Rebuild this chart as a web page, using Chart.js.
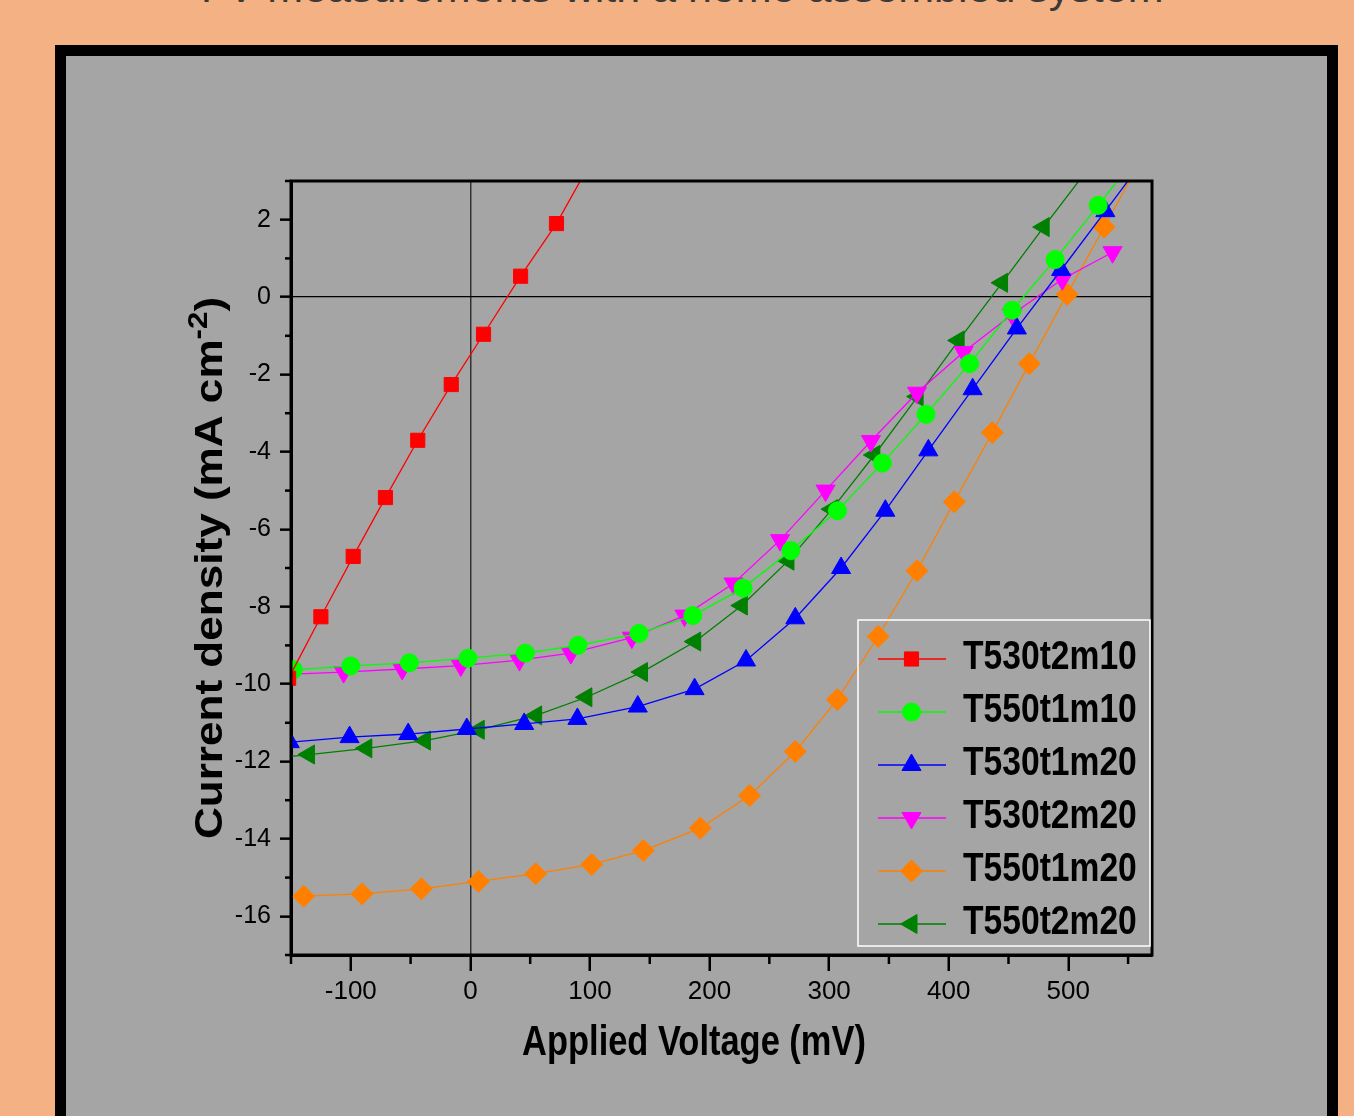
<!DOCTYPE html>
<html>
<head>
<meta charset="utf-8">
<script src="https://cdn.jsdelivr.net/npm/chart.js@4.4.1/dist/chart.umd.min.js"></script>
<style>
html,body{margin:0;padding:0;width:1354px;height:1116px;overflow:hidden;background:#F4B183;}
#title{position:absolute;left:0;width:1364px;top:-33px;text-align:center;font:43px 'Liberation Sans',Arial,sans-serif;color:#3a3a3a;line-height:40px;white-space:nowrap;}
#panel{position:absolute;left:55px;top:45px;width:1261px;height:1200px;border:11px solid #000;background:#A5A5A5;}
#wrap{position:absolute;left:0;top:0;width:1354px;height:1116px;}
</style>
</head>
<body>
<div id="title">I-V measurements with a home assembled system</div>
<div id="panel"></div>
<div id="wrap"><canvas id="c" width="1354" height="1116"></canvas></div>
<script>
// ---- data (voltage in mV, current density in mA cm^-2) ----
const seriesLabels = ['T530t2m10', 'T550t1m10', 'T530t1m20', 'T530t2m20', 'T550t1m20', 'T550t2m20'];

const voltageT530t2m10 = [-152, -125, -98, -71, -44, -16, 11, 42, 72, 100];
const currentT530t2m10 = [-9.85, -8.26, -6.70, -5.18, -3.70, -2.26, -0.96, 0.54, 1.90, 3.45];

const voltageT550t1m10 = [-148, -100, -51, -2, 46, 90, 141, 186, 228, 268, 307, 344.5, 381, 417.5, 453, 489, 525, 560];
const currentT550t1m10 = [-9.63, -9.53, -9.45, -9.33, -9.20, -9.00, -8.69, -8.23, -7.52, -6.55, -5.52, -4.29, -3.03, -1.72, -0.34, 0.97, 2.37, 3.75];

const voltageT530t1m20 = [-151, -101, -52, -3, 45, 89.5, 140, 187.5, 230.5, 271.7, 310, 347, 383, 420, 457, 494, 531, 568];
const currentT530t1m20 = [-11.50, -11.37, -11.29, -11.16, -11.03, -10.90, -10.58, -10.13, -9.39, -8.30, -7.00, -5.52, -3.96, -2.38, -0.81, 0.70, 2.22, 3.75];

const voltageT530t2m20 = [-155, -106, -57, -8, 41, 84, 135, 179, 220, 259, 297, 335, 373.5, 412.5, 453, 495, 537];
const currentT530t2m20 = [-9.75, -9.69, -9.61, -9.52, -9.38, -9.20, -8.80, -8.23, -7.40, -6.28, -5.00, -3.72, -2.47, -1.42, -0.45, 0.46, 1.16];

const voltageT550t1m20 = [-139.4, -90.6, -41, 6.7, 54.6, 101.5, 144.6, 192.3, 233.5, 271.7, 306.8, 341, 373.5, 404.7, 436.5, 467.4, 499, 530, 561];
const currentT550t1m20 = [-15.48, -15.42, -15.29, -15.10, -14.90, -14.66, -14.30, -13.72, -12.88, -11.74, -10.40, -8.77, -7.07, -5.29, -3.50, -1.72, 0.07, 1.81, 3.55];

const voltageT550t2m20 = [-183, -135, -87, -38, 7, 55, 97, 143.5, 188, 227, 266, 302.4, 337.8, 374, 408.3, 444.6, 479.4, 515];
const currentT550t2m20 = [-11.98, -11.82, -11.66, -11.46, -11.18, -10.81, -10.34, -9.69, -8.90, -7.97, -6.81, -5.48, -4.08, -2.57, -1.12, 0.37, 1.81, 3.25];

const xAxisTitle = 'Applied Voltage (mV)';
const yAxisTitleMain = 'Current density (mA cm';
const yAxisTitleSup = '-2';
const yAxisTitleEnd = ')';

// ---- helpers ----
const SANS = "'Liberation Sans', Arial, sans-serif";

function pts(xs, ys) { return xs.map((v, i) => ({x: v, y: ys[i]})); }

const styles = [
  {color: '#FF0000', pointStyle: 'rect', radius: 10, rotation: 0},
  {color: '#00FF00', pointStyle: 'circle', radius: 9, rotation: 0},
  {color: '#0000FF', pointStyle: 'triangle', radius: 11, rotation: 0},
  {color: '#FF00FF', pointStyle: 'triangle', radius: 11, rotation: 180},
  {color: '#FF8000', pointStyle: 'rectRot', radius: 11, rotation: 0},
  {color: '#008000', pointStyle: 'triangle', radius: 11, rotation: 270}
];
const seriesData = [
  pts(voltageT530t2m10, currentT530t2m10),
  pts(voltageT550t1m10, currentT550t1m10),
  pts(voltageT530t1m20, currentT530t1m20),
  pts(voltageT530t2m20, currentT530t2m20),
  pts(voltageT550t1m20, currentT550t1m20),
  pts(voltageT550t2m20, currentT550t2m20)
];

const datasets = seriesLabels.map((lab, i) => ({
  label: lab,
  data: seriesData[i],
  showLine: true,
  tension: 0,
  borderColor: styles[i].color,
  backgroundColor: styles[i].color,
  borderWidth: 1.3,
  pointStyle: styles[i].pointStyle,
  pointRadius: styles[i].radius,
  pointRotation: styles[i].rotation,
  pointBorderWidth: 1,
  pointBorderColor: styles[i].color,
  pointBackgroundColor: styles[i].color,
  clip: 0
}));

const frameAndTicks = {
  id: 'frameAndTicks',
  afterDraw(chart) {
    const {ctx, chartArea: a, scales: {x, y}} = chart;
    ctx.save();
    ctx.strokeStyle = '#000';
    ctx.lineWidth = 2.5;
    x.ticks.forEach(t => {
      if (t.value % 100 !== 0) {
        const px = x.getPixelForValue(t.value);
        ctx.beginPath(); ctx.moveTo(px, a.bottom); ctx.lineTo(px, a.bottom + 9); ctx.stroke();
      }
    });
    y.ticks.forEach(t => {
      if (Math.abs(t.value) % 2 === 1) {
        const py = y.getPixelForValue(t.value);
        ctx.beginPath(); ctx.moveTo(a.left, py); ctx.lineTo(a.left - 6, py); ctx.stroke();
      }
    });
    ctx.lineWidth = 3;
    ctx.strokeRect(a.left, a.top, a.right - a.left, a.bottom - a.top);
    ctx.restore();
  }
};

const axisTitles = {
  id: 'axisTitles',
  afterDraw(chart) {
    const {ctx, chartArea: a} = chart;
    // y axis title (rotated, with superscript)
    const big = 'bold 38px ' + SANS;
    const small = 'bold 27px ' + SANS;
    ctx.save();
    ctx.translate(a.left - 69, (a.top + a.bottom) / 2);
    ctx.rotate(-Math.PI / 2);
    ctx.scale(1.16, 1);
    ctx.fillStyle = '#000';
    ctx.textAlign = 'left';
    ctx.textBaseline = 'alphabetic';
    ctx.font = big;
    const w1 = ctx.measureText(yAxisTitleMain).width;
    const w3 = ctx.measureText(yAxisTitleEnd).width;
    ctx.font = small;
    const w2 = ctx.measureText(yAxisTitleSup).width;
    let px = -(w1 + w2 + w3) / 2;
    ctx.font = big; ctx.fillText(yAxisTitleMain, px, 0); px += w1;
    ctx.font = small; ctx.fillText(yAxisTitleSup, px, -15); px += w2;
    ctx.font = big; ctx.fillText(yAxisTitleEnd, px, 0);
    ctx.restore();
    // x axis title (condensed bold)
    ctx.save();
    ctx.translate(a.left + 403, a.bottom + 100);
    ctx.scale(0.82, 1);
    ctx.fillStyle = '#000';
    ctx.font = 'bold 42px ' + SANS;
    ctx.textAlign = 'center';
    ctx.textBaseline = 'alphabetic';
    ctx.fillText(xAxisTitle, 0, 0);
    ctx.restore();
  }
};

const boxLegend = {
  id: 'boxLegend',
  afterDraw(chart) {
    const {ctx, chartArea: a} = chart;
    const W = 292, H = 326;
    const left = a.right - 2 - W, top = a.bottom - 9 - H;
    ctx.save();
    ctx.strokeStyle = '#FFFFFF';
    ctx.lineWidth = 1.5;
    ctx.strokeRect(left, top, W, H);
    chart.data.datasets.forEach((ds, i) => {
      const cy = top + 39 + i * 53;
      ctx.strokeStyle = ds.borderColor;
      ctx.lineWidth = ds.borderWidth;
      ctx.beginPath(); ctx.moveTo(left + 20, cy); ctx.lineTo(left + 88, cy); ctx.stroke();
      ctx.fillStyle = ds.pointBackgroundColor;
      ctx.lineWidth = 1;
      Chart.helpers.drawPoint(ctx, {pointStyle: ds.pointStyle, rotation: ds.pointRotation, radius: ds.pointRadius, borderWidth: 1}, left + 53.5, cy);
      ctx.save();
      ctx.translate(left + 105, cy - 1);
      ctx.scale(0.82, 1);
      ctx.fillStyle = '#000';
      ctx.font = 'bold 41px ' + SANS;
      ctx.textBaseline = 'middle';
      ctx.textAlign = 'left';
      ctx.fillText(ds.label, 0, 0);
      ctx.restore();
    });
    ctx.restore();
  }
};

new Chart(document.getElementById('c'), {
  type: 'scatter',
  data: {datasets: datasets},
  options: {
    responsive: false,
    animation: false,
    devicePixelRatio: 1,
    layout: {padding: {left: 0, top: 181, right: 202, bottom: 0}},
    plugins: {legend: {display: false}, tooltip: {enabled: false}},
    scales: {
      x: {
        type: 'linear',
        min: -150, max: 570,
        afterFit: s => { s.height = 161; },
        border: {display: true, color: '#000', width: 3},
        grid: {
          drawOnChartArea: true,
          color: c => (c.tick && c.tick.value === 0) ? '#333333' : 'rgba(0,0,0,0)',
          lineWidth: 1.5,
          drawTicks: true,
          tickLength: 16,
          tickWidth: 2.5,
          tickColor: c => (c.tick && c.tick.value % 100 === 0) ? '#000' : 'rgba(0,0,0,0)'
        },
        ticks: {
          stepSize: 50,
          includeBounds: false,
          autoSkip: false,
          maxRotation: 0,
          padding: 5,
          color: '#000',
          font: {family: SANS, size: 26},
          callback: v => (v % 100 === 0 ? String(v) : '')
        },
        title: {display: false}
      },
      y: {
        type: 'linear',
        min: -17, max: 3,
        afterFit: s => { s.width = 291; },
        border: {display: true, color: '#000', width: 3},
        grid: {
          drawOnChartArea: true,
          color: c => (c.tick && c.tick.value === 0) ? '#000000' : 'rgba(0,0,0,0)',
          lineWidth: 1.3,
          drawTicks: true,
          tickLength: 11,
          tickWidth: 2.5,
          tickColor: c => (c.tick && Math.abs(c.tick.value) % 2 === 0) ? '#000' : 'rgba(0,0,0,0)'
        },
        ticks: {
          stepSize: 1,
          includeBounds: false,
          autoSkip: false,
          padding: 9,
          color: '#000',
          font: {family: SANS, size: 25},
          callback: v => (Math.abs(v) % 2 === 0 ? String(v) : '')
        },
        title: {display: false}
      }
    }
  },
  plugins: [frameAndTicks, axisTitles, boxLegend]
});
</script>
</body>
</html>
